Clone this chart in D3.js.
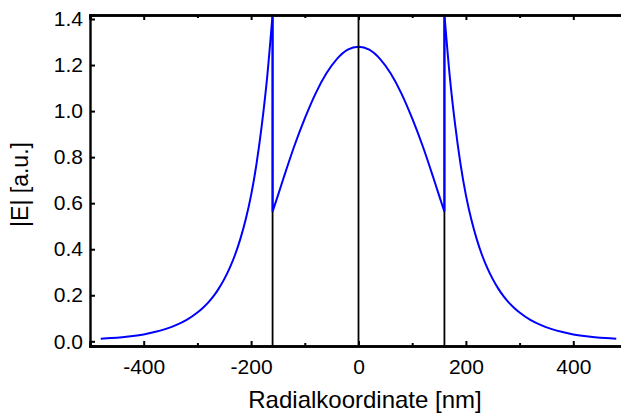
<!DOCTYPE html>
<html>
<head>
<meta charset="utf-8">
<script src="https://cdn.jsdelivr.net/npm/d3@7"></script>
<style>
  body { margin: 0; background: #fff; }
  svg { display: block; }
  text { font-family: "Liberation Sans", Arial, sans-serif; fill: #000; }
</style>
</head>
<body>
<div id="chart"></div>
<script>
// radial field profile (symmetric about r = 0)
const coreR = [0, 20, 40, 60, 80, 100, 120, 140, 150, 160];
const coreE = [1.280, 1.267, 1.227, 1.163, 1.076, 0.968, 0.845, 0.706, 0.634, 0.563];
const cladR = [160, 170, 180, 190, 200, 210, 220, 230, 240, 250, 260, 270, 280, 290, 300,
               320, 340, 360, 380, 400, 420, 440, 460, 480];
const cladE = [1.42, 1.15, 0.94, 0.77, 0.635, 0.53, 0.445, 0.375, 0.318, 0.27, 0.23, 0.196, 0.168, 0.145, 0.125,
               0.093, 0.070, 0.053, 0.040, 0.030, 0.023, 0.018, 0.014, 0.011];
const interfaces = [-160, 160];
const xMajor = [-400, -200, 0, 200, 400];
const xMinor = [-300, -100, 100, 300];
const yTicks = [0.0, 0.2, 0.4, 0.6, 0.8, 1.0, 1.2, 1.4];
const xLabel = "Radialkoordinate [nm]";
const yLabel = "|E| [a.u.]";

const W = 621, H = 416;
const plot = {left: 90, top: 15, bottom: 346, right: 627};

const x = d3.scaleLinear().domain([-500, 500]).range([plot.left, plot.right]);
const y = d3.scaleLinear().domain([-0.0204, 1.4174]).range([plot.bottom, plot.top]);

const svg = d3.select("#chart").append("svg")
    .attr("width", W)
    .attr("height", H);

svg.append("clipPath").attr("id", "plotclip")
  .append("rect")
    .attr("x", plot.left).attr("y", plot.top)
    .attr("width", plot.right - plot.left).attr("height", plot.bottom - plot.top);

// pieces of the profile: left cladding, core, right cladding
const leftClad = cladR.map((r, i) => [-r, cladE[i]]).reverse();
const core = coreR.slice(1).map((r, i) => [-r, coreE[i + 1]]).reverse()
    .concat(coreR.map((r, i) => [r, coreE[i]]));
const rightClad = cladR.map((r, i) => [r, cladE[i]]);

const line = d3.line()
    .x(d => x(d[0]))
    .y(d => y(d[1]))
    .curve(d3.curveMonotoneX);

// join the pieces into one path so the jumps at the interfaces are drawn
const pathD = [leftClad, core, rightClad]
    .map((p, i) => i === 0 ? line(p) : "L" + line(p).slice(1))
    .join("");

// interface lines (under the curve)
svg.selectAll(".iface")
  .data(interfaces)
  .join("line")
    .attr("class", "iface")
    .attr("x1", d => x(d)).attr("x2", d => x(d))
    .attr("y1", plot.bottom).attr("y2", plot.top)
    .attr("stroke", "#000")
    .attr("stroke-width", 1.8);

svg.append("path")
    .attr("clip-path", "url(#plotclip)")
    .attr("d", pathD)
    .attr("fill", "none")
    .attr("stroke", "#0000ff")
    .attr("stroke-width", 2);

// centre line sits on top of the curve
svg.append("line")
    .attr("x1", x(0)).attr("x2", x(0))
    .attr("y1", plot.bottom).attr("y2", plot.top)
    .attr("stroke", "#000")
    .attr("stroke-width", 1.8);

// axes, ticks pointing inward
svg.append("g")
    .attr("transform", `translate(0,${plot.bottom})`)
    .call(d3.axisBottom(x).tickValues(xMajor).tickSize(-5).tickPadding(13).tickFormat(d => String(d)));
svg.append("g")
    .attr("transform", `translate(0,${plot.bottom})`)
    .call(d3.axisBottom(x).tickValues(xMinor).tickSize(-3).tickFormat(""));

svg.append("g")
    .attr("transform", `translate(0,${plot.top})`)
    .call(d3.axisTop(x).tickValues(xMajor).tickSize(-5).tickFormat(""));
svg.append("g")
    .attr("transform", `translate(0,${plot.top})`)
    .call(d3.axisTop(x).tickValues(xMinor).tickSize(-3).tickFormat(""));

svg.append("g")
    .attr("transform", `translate(${plot.left},0)`)
    .call(d3.axisLeft(y).tickValues(yTicks).tickSize(-5).tickPadding(7).tickFormat(d3.format(".1f")));

svg.selectAll(".domain")
    .attr("stroke", "#000")
    .attr("stroke-width", 2.4);
svg.selectAll(".tick line")
    .attr("stroke", "#000")
    .attr("stroke-width", 2);
svg.selectAll(".tick text")
    .attr("font-family", "Liberation Sans, Arial, sans-serif")
    .attr("font-size", 21);

svg.append("text")
    .attr("x", 365)
    .attr("y", 408)
    .attr("text-anchor", "middle")
    .attr("font-size", 24)
    .text(xLabel);

svg.append("text")
    .attr("transform", `translate(28,${(plot.top + plot.bottom) / 2 + 4}) rotate(-90)`)
    .attr("text-anchor", "middle")
    .attr("font-size", 23)
    .text(yLabel);
</script>
</body>
</html>
